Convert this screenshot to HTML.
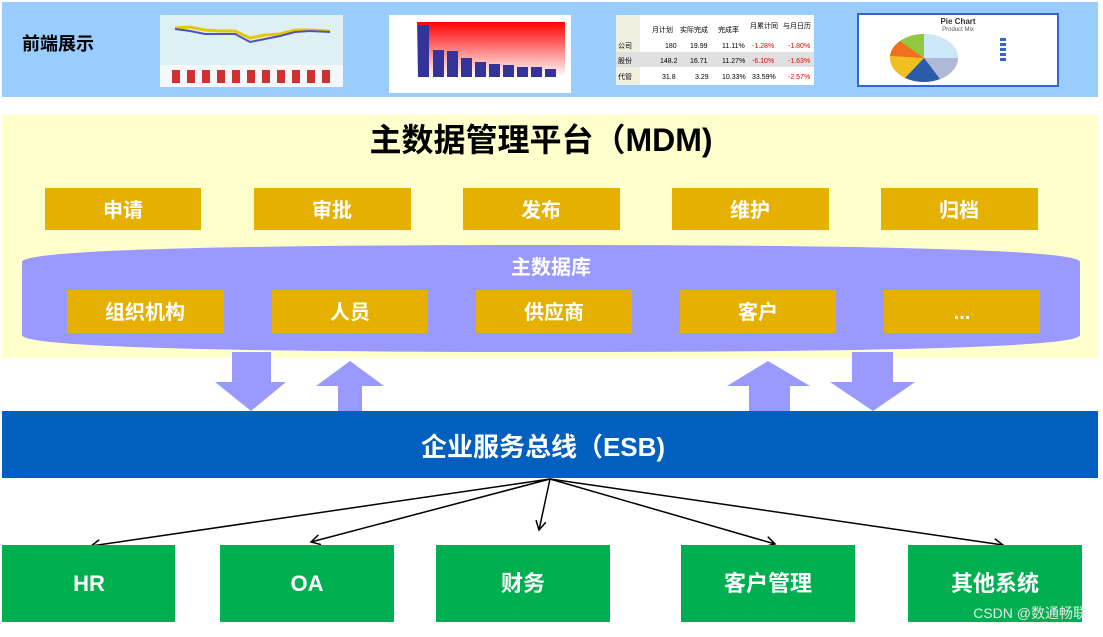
<!DOCTYPE html>
<html><head><meta charset="utf-8"><style>
body{margin:0;width:1103px;height:632px;background:#fff;overflow:hidden;font-family:"Liberation Sans","Noto Sans CJK SC",sans-serif}
</style></head><body>
<svg width="1103" height="632" xmlns="http://www.w3.org/2000/svg" font-family="Liberation Sans, Noto Sans CJK SC, sans-serif">
<defs>
<linearGradient id="rg" x1="0" y1="0" x2="0" y2="1"><stop offset="0" stop-color="#ff0000"/><stop offset="1" stop-color="#ffffff"/></linearGradient>
<marker id="ah" markerWidth="12" markerHeight="12" refX="10" refY="6" orient="auto" markerUnits="userSpaceOnUse"><polyline points="1,1 10,6 1,11" fill="none" stroke="#000" stroke-width="1.5"/></marker>
</defs>
<rect x="2" y="2" width="1096" height="95" fill="#99ccff"/>
<text x="22" y="50" font-size="18" font-weight="bold" fill="#000">前端展示</text>
<!-- chart1 -->
<rect x="160" y="15" width="183" height="72" fill="#dff0f5"/>
<rect x="160" y="65" width="183" height="22" fill="#f4f8fa"/>
<polyline points="175,28 190,27 205,30 220,31 235,31 250,38 265,35 280,34 295,30 310,30 330,31" fill="none" stroke="#e6c800" stroke-width="3"/>
<polyline points="175,29 190,31 205,34 220,34 235,34 250,42 265,39 280,36 295,32 310,31 330,32" fill="none" stroke="#5050c0" stroke-width="2"/>
<g fill="#d03030"><rect x="172" y="70" width="8" height="13"/><rect x="187" y="70" width="8" height="13"/><rect x="202" y="70" width="8" height="13"/><rect x="217" y="70" width="8" height="13"/><rect x="232" y="70" width="8" height="13"/><rect x="247" y="70" width="8" height="13"/><rect x="262" y="70" width="8" height="13"/><rect x="277" y="70" width="8" height="13"/><rect x="292" y="70" width="8" height="13"/><rect x="307" y="70" width="8" height="13"/><rect x="322" y="70" width="8" height="13"/></g>
<!-- chart2 -->
<rect x="389" y="15" width="182" height="78" fill="#fff"/>
<rect x="417" y="22" width="148" height="55" fill="url(#rg)"/>
<g fill="#333399"><rect x="418" y="25" width="11" height="52"/><rect x="433" y="50" width="11" height="27"/><rect x="447" y="51" width="11" height="26"/><rect x="461" y="58" width="11" height="19"/><rect x="475" y="62" width="11" height="15"/><rect x="489" y="64" width="11" height="13"/><rect x="503" y="65" width="11" height="12"/><rect x="517" y="67" width="11" height="10"/><rect x="531" y="67" width="11" height="10"/><rect x="545" y="69" width="11" height="8"/></g>
<!-- table -->
<rect x="616" y="15" width="198" height="70" fill="#fff"/>
<rect x="616" y="15" width="24" height="70" fill="#f0f0e0"/>
<rect x="616" y="52" width="198" height="15" fill="#e0e0e0"/>
<g font-size="7" fill="#000"><text x="652" y="32">月计划</text><text x="680" y="32">实际完成</text><text x="718" y="32">完成率</text><text x="750" y="28">月累计同</text><text x="783" y="28">与月日历</text>
<text x="618" y="48">公司</text><text x="665" y="48">180</text><text x="690" y="48">19.99</text><text x="722" y="48">11.11%</text><text x="752" y="48" fill="#e00">-1.28%</text><text x="788" y="48" fill="#e00">-1.80%</text>
<text x="618" y="63">股份</text><text x="660" y="63">148.2</text><text x="690" y="63">16.71</text><text x="722" y="63">11.27%</text><text x="752" y="63" fill="#e00">-6.10%</text><text x="788" y="63" fill="#e00">-1.63%</text>
<text x="618" y="79">代管</text><text x="662" y="79">31.8</text><text x="695" y="79">3.29</text><text x="722" y="79">10.33%</text><text x="752" y="79">33.59%</text><text x="788" y="79" fill="#e00">-2.57%</text></g>
<!-- pie -->
<rect x="858" y="14" width="200" height="72" fill="#fff" stroke="#3366cc" stroke-width="2"/>
<text x="958" y="24" font-size="8" font-weight="bold" text-anchor="middle" fill="#333">Pie Chart</text>
<text x="958" y="31" font-size="6" text-anchor="middle" fill="#555">Product Mix</text>
<ellipse cx="924" cy="58" rx="34" ry="24" fill="#f0c020"/>
<path d="M924 58 L924 34 A34 24 0 0 1 958 58 Z" fill="#cce8f8"/>
<path d="M924 58 L958 58 A34 24 0 0 1 940 79 Z" fill="#b0b8d8"/>
<path d="M924 58 L940 79 A34 24 0 0 1 905 78 Z" fill="#2a5aa8"/>
<path d="M924 58 L890 56 A34 24 0 0 1 900 41 Z" fill="#f07020"/>
<path d="M924 58 L900 41 A34 24 0 0 1 924 34 Z" fill="#90c840"/>
<g fill="#3366cc"><rect x="1000" y="38" width="6" height="3"/><rect x="1000" y="43" width="6" height="3"/><rect x="1000" y="48" width="6" height="3"/><rect x="1000" y="53" width="6" height="3"/><rect x="1000" y="58" width="6" height="3"/></g>
<!-- MDM -->
<rect x="2" y="115" width="1096" height="243" fill="#ffffcc"/>
<text x="541" y="151" font-size="32" font-weight="bold" text-anchor="middle">主数据管理平台（MDM)</text>
<g fill="#e6b000"><rect x="45" y="188" width="156" height="42"/><rect x="254" y="188" width="157" height="42"/><rect x="463" y="188" width="157" height="42"/><rect x="672" y="188" width="157" height="42"/><rect x="881" y="188" width="157" height="42"/></g>
<g font-size="20" font-weight="bold" fill="#fff" text-anchor="middle"><text x="123" y="217">申请</text><text x="332" y="217">审批</text><text x="541" y="217">发布</text><text x="750" y="217">维护</text><text x="959" y="217">归档</text></g>
<path d="M22 262 Q22 245 551 245 Q1080 245 1080 262 L1080 335 Q1080 352 551 352 Q22 352 22 335 Z" fill="#9999ff"/>
<text x="551" y="274" font-size="20" font-weight="bold" fill="#fff" text-anchor="middle">主数据库</text>
<g fill="#e6b000"><rect x="67" y="290" width="157" height="43"/><rect x="272" y="290" width="156" height="43"/><rect x="476" y="290" width="156" height="43"/><rect x="680" y="290" width="156" height="43"/><rect x="884" y="290" width="156" height="43"/></g>
<g font-size="20" font-weight="bold" fill="#fff" text-anchor="middle"><text x="145" y="319">组织机构</text><text x="350" y="319">人员</text><text x="554" y="319">供应商</text><text x="758" y="319">客户</text><text x="962" y="319">...</text></g>
<!-- arrows -->
<g fill="#9999ff">
<path d="M232 352 H271 V382 H286 L251 411 L215 382 H232 Z"/>
<path d="M338 411 V386 H316 L350 361 L384 386 H362 V411 Z"/>
<path d="M749 411 V386 H727 L768 361 L810 386 H790 V411 Z"/>
<path d="M852 352 H893 V382 H915 L873 411 L830 382 H852 Z"/>
</g>
<rect x="2" y="411" width="1096" height="67" fill="#005fbf"/>
<text x="543" y="456" font-size="26" font-weight="bold" fill="#fff" text-anchor="middle">企业服务总线（ESB)</text>
<!-- connectors -->
<g stroke="#000" stroke-width="1.5" fill="none" marker-end="url(#ah)">
<line x1="550" y1="479" x2="91" y2="546"/>
<line x1="550" y1="479" x2="311" y2="542"/>
<line x1="550" y1="479" x2="539" y2="530"/>
<line x1="550" y1="479" x2="775" y2="544"/>
<line x1="550" y1="479" x2="1003" y2="545"/>
</g>
<g fill="#00b050"><rect x="2" y="545" width="173" height="77"/><rect x="220" y="545" width="174" height="77"/><rect x="436" y="545" width="174" height="77"/><rect x="681" y="545" width="174" height="77"/><rect x="908" y="545" width="174" height="77"/></g>
<g font-size="22" font-weight="bold" fill="#fff" text-anchor="middle"><text x="89" y="591">HR</text><text x="307" y="591">OA</text><text x="523" y="591">财务</text><text x="768" y="591">客户管理</text><text x="995" y="591">其他系统</text></g>
<text x="1087" y="618" font-size="14" fill="#e8e8e8" text-anchor="end">CSDN @数通畅联</text>
</svg>
</body></html>
